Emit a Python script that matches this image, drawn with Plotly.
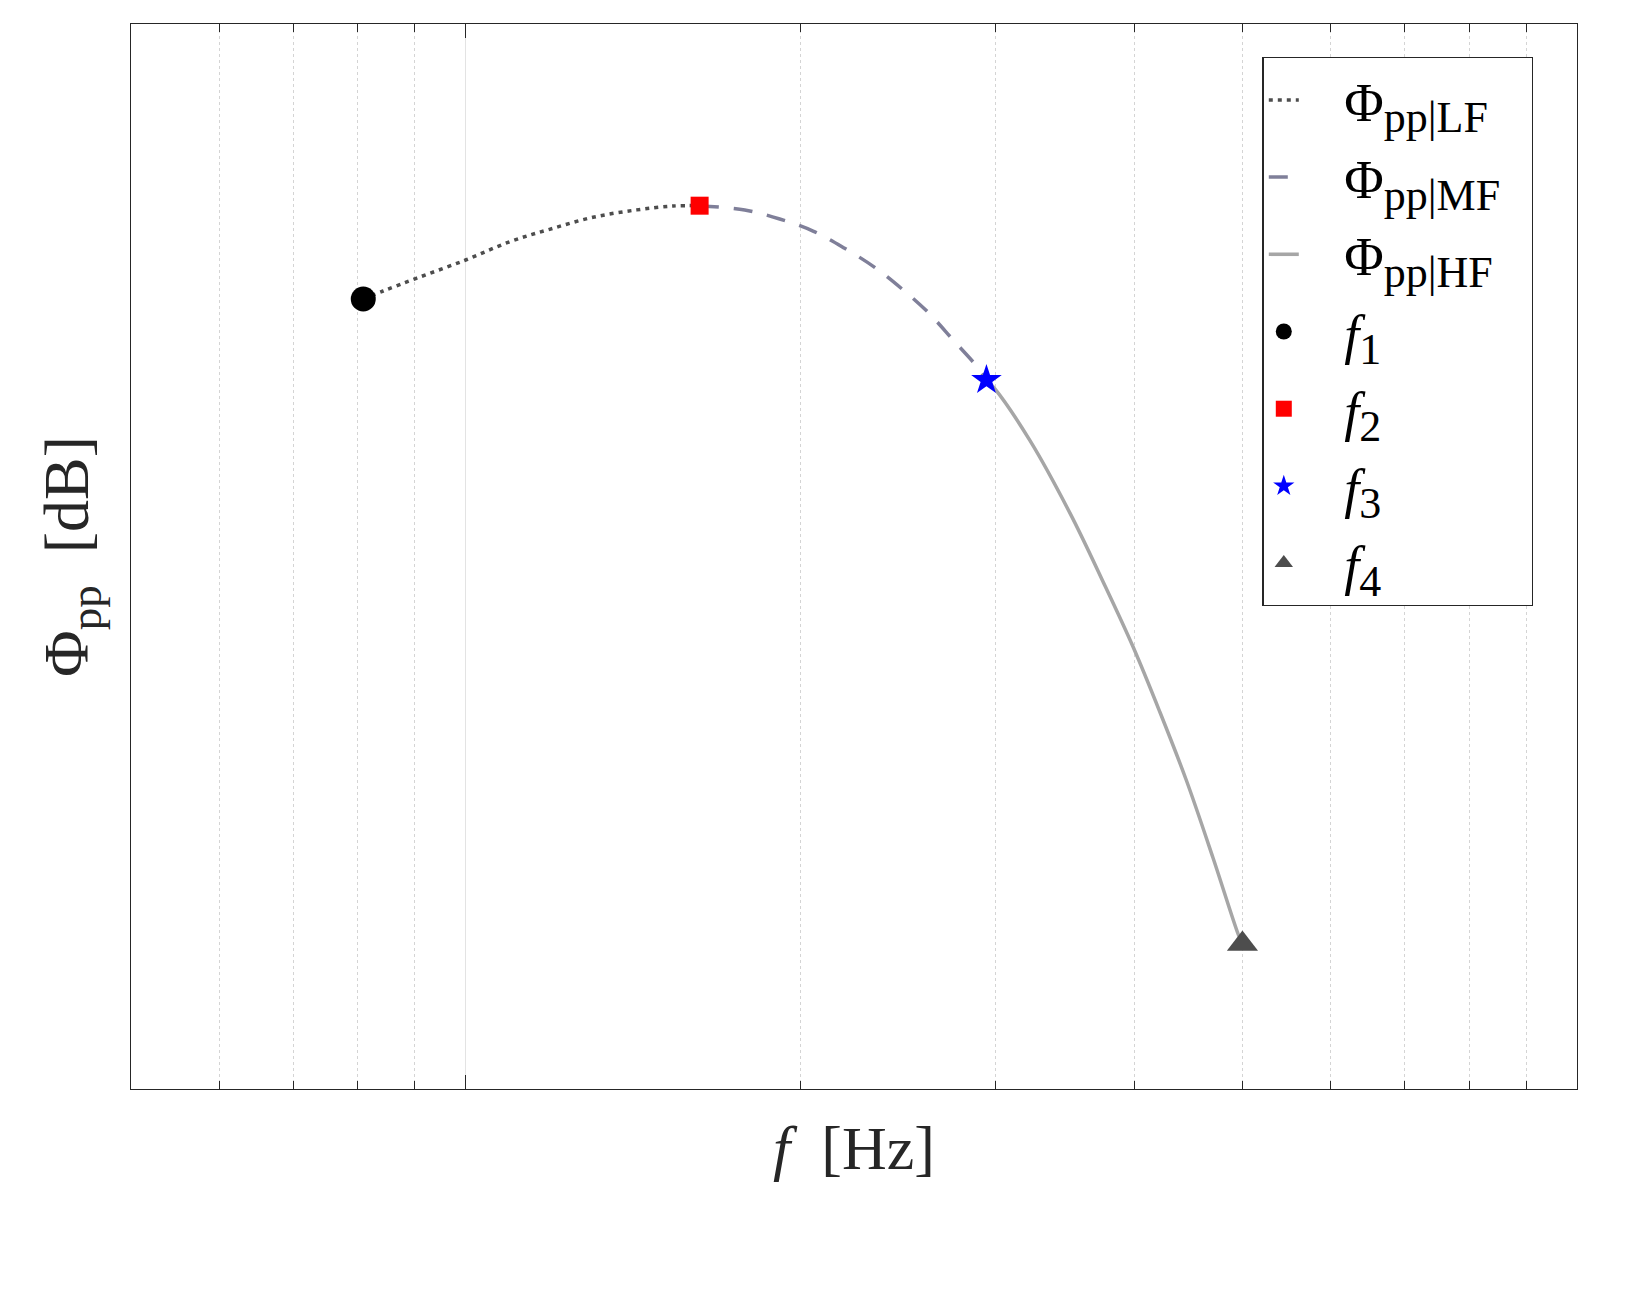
import plotly.graph_objects as go

# ---- data (frequency in Hz, level in dB, arbitrary offset) ----
lf_f = [809, 843, 903, 1000, 1096, 1190, 1302, 1424, 1537, 1624]
lf_db = [74.18, 74.93, 76.12, 77.84, 79.56, 80.72, 81.85, 82.54, 82.91, 82.94]

mf_f = [1624, 1783, 1917, 2054, 2193, 2334, 2472, 2612, 2746, 2882, 2942]
mf_db = [82.94, 82.54, 81.69, 80.56, 78.94, 77.15, 75.09, 72.84, 70.33, 67.89, 66.57]

hf_f = [2942, 2993, 3219, 3498, 3747, 3987, 4214, 4454, 4705, 4957, 5000]
hf_db = [66.57, 65.76, 60.90, 54.07, 47.61, 41.50, 35.40, 28.92, 21.69, 14.51, 13.62]

pt_f = [809, 1624, 2942, 5000]
pt_db = [74.18, 82.94, 66.57, 13.62]
pt_labels = ["1", "2", "3", "4"]
pt_symbols = ["circle", "square", "star", "triangle-up"]
pt_colors = ["#000000", "#ff0000", "#0000ff", "#4d4d4d"]
pt_sizes = [25, 18, 23, 27]

band_labels = ["LF", "MF", "HF"]

x_major = [1000, 10000]
x_minor = [600, 700, 800, 900, 2000, 3000, 4000, 5000, 6000, 7000, 8000, 9000]
y_range = [0, 100]

FONT = "Liberation Serif"
TXT = "#262626"
SUB = "<sub><span style='font-size:44px'>%s</span></sub>"
PAD = "&nbsp;&nbsp;&nbsp;"


def band_name(b):
    return PAD + "Φ" + SUB % ("pp|" + b) + "&nbsp;&nbsp;"


def pt_name(k):
    return PAD + "<i>f</i>" + SUB % k


fig = go.Figure()
fig.add_trace(go.Scatter(x=lf_f, y=lf_db, mode="lines", name=band_name(band_labels[0]),
                         legendgroup="a",
                         line=dict(color="#4d4d4d", width=3.5, dash="4px,5px", shape="spline")))
fig.add_trace(go.Scatter(x=mf_f, y=mf_db, mode="lines", name=band_name(band_labels[1]),
                         legendgroup="b",
                         line=dict(color="#7f7f99", width=3.5, dash="19px,15px", shape="spline")))
fig.add_trace(go.Scatter(x=hf_f, y=hf_db, mode="lines", name=band_name(band_labels[2]),
                         legendgroup="c", line=dict(color="#a6a6a6", width=3.5, shape="spline")))
for i in range(4):
    fig.add_trace(go.Scatter(x=[pt_f[i]], y=[pt_db[i]], mode="markers", name=pt_name(pt_labels[i]),
                             legendgroup="p%d" % i,
                             marker=dict(symbol=pt_symbols[i], color=pt_colors[i], size=pt_sizes[i],
                                         line=dict(width=0))))

fig.update_layout(
    width=1616, height=1292,
    margin=dict(l=123, r=47, t=16, b=211),
    paper_bgcolor="white", plot_bgcolor="white",
    font=dict(family=FONT, color=TXT),
    showlegend=True,
    legend=dict(x=0.7825, y=0.969, xanchor="left", yanchor="top",
                bgcolor="white", bordercolor=TXT, borderwidth=1.3,
                font=dict(family=FONT, size=54, color="#000000"),
                traceorder="grouped", tracegroupgap=4, itemsizing="trace"),
)

fig.update_xaxes(
    type="log", range=[3 - 0.30103, 4],
    showline=True, linecolor=TXT, linewidth=1.3, mirror="ticks",
    tickmode="array", tickvals=x_major, showticklabels=False,
    ticks="inside", ticklen=14, tickcolor=TXT, tickwidth=1.3,
    showgrid=True, gridcolor="#e3e3e3", gridwidth=1.3,
    minor=dict(tickmode="array", tickvals=x_minor, ticks="inside", ticklen=8,
               tickcolor=TXT, tickwidth=1.3, showgrid=True, gridcolor="#d4d4d4",
               griddash="dot", gridwidth=1),
    zeroline=False,
    title=dict(text="<i>f</i>  [Hz]", font=dict(family=FONT, size=62, color=TXT), standoff=36),
)
fig.update_yaxes(
    range=y_range, showline=True, linecolor=TXT, linewidth=1.3, mirror=True,
    showticklabels=False, ticks="", showgrid=False, zeroline=False,
    title=dict(text="Φ<sub>pp</sub>  [dB]", font=dict(family=FONT, size=64, color=TXT), standoff=20),
)

fig.write_html("out.html")
